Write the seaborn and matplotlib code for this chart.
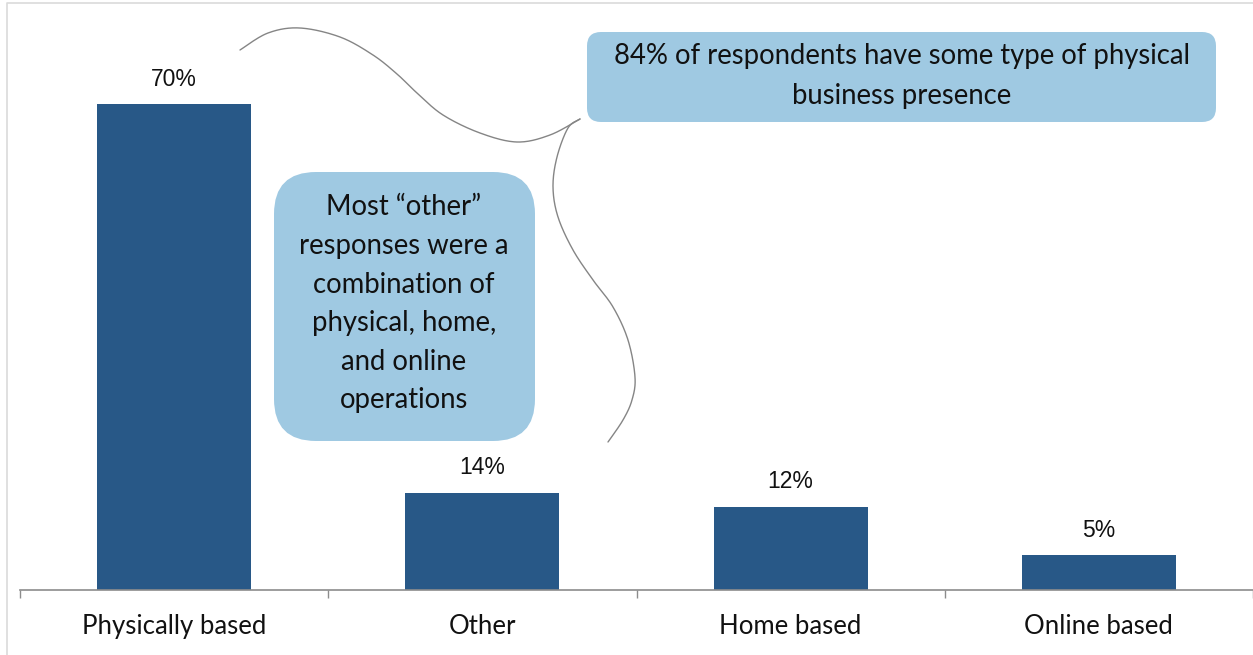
import numpy as np
import pandas as pd
import matplotlib
matplotlib.use("Agg")
import matplotlib.pyplot as plt
import seaborn as sns
from matplotlib.patches import FancyBboxPatch
from matplotlib.lines import Line2D
from matplotlib.transforms import Affine2D

# Business location type shares (%)
categories = ["Physically based", "Other", "Home based", "Online based"]
shares = [70, 14, 12, 5]
value_labels = ["70%", "14%", "12%", "5%"]

note_top = "84% of respondents have some type of physical\nbusiness presence"
note_left = "Most \u201cother\u201d\nresponses were a\ncombination of\nphysical, home,\nand online\noperations"

BAR_COLOR = "#285887"
BOX_COLOR = "#9FC9E2"
W, H = 1253, 655

sns.set_theme(style="white")
plt.rcParams["font.family"] = ["Lato", "DejaVu Sans"]

fig = plt.figure(figsize=(W / 100, H / 100), dpi=100)
# pixel coordinates with the origin at the top-left corner
px = Affine2D().scale(1 / W, -1 / H).translate(0, 1) + fig.transFigure

ax = fig.add_axes([20 / W, 65 / H, 1 - 20 / W, 580 / H])
df = pd.DataFrame({"category": categories, "share": shares})
sns.barplot(data=df, x="category", y="share", color=BAR_COLOR, saturation=1,
            width=0.5, linewidth=0, edgecolor="none", ax=ax)
ax.set_xlim(-0.5, len(categories) - 0.5)
ax.set_ylim(0, 70 * 580 / 486)
ax.set_xlabel("")
ax.set_ylabel("")
ax.set_yticks([])
for s in ["top", "right", "left"]:
    ax.spines[s].set_visible(False)
ax.spines["bottom"].set_color("#8C8C8C")
ax.spines["bottom"].set_linewidth(1.2)
ax.set_facecolor("none")

# category labels centred, tick marks on category boundaries
ax.set_xticks(range(len(categories)))
ax.set_xticklabels(categories, fontsize=18.5, color="#111111")
ax.tick_params(axis="x", which="major", length=0, pad=17)
ax.set_xticks(np.arange(-0.5, len(categories)), minor=True)
ax.tick_params(axis="x", which="minor", length=6, width=1, color="#8C8C8C",
               direction="out", bottom=True)

for bar, lab in zip(ax.patches, value_labels):
    ax.annotate(lab, (bar.get_x() + bar.get_width() / 2, bar.get_height()),
                xytext=(0, 18), textcoords="offset points", ha="center",
                va="center", fontsize=16.5, family="Liberation Sans",
                color="#111111")

# outer frame on the left and top
fig.add_artist(Line2D([7, 7, W], [H, 3, 3], transform=px, color="#DADADA",
                      lw=1.2))

# callout boxes
fig.add_artist(FancyBboxPatch((587, 32), 629, 90,
                              boxstyle="round,pad=0,rounding_size=14",
                              transform=px, facecolor=BOX_COLOR,
                              edgecolor="none"))
fig.text(902 / W, 1 - 76 / H, note_top, ha="center", va="center",
         fontsize=19.8, linespacing=1.68, color="#111111")

fig.add_artist(FancyBboxPatch((274, 172), 261, 269,
                              boxstyle="round,pad=0,rounding_size=42",
                              transform=px, facecolor=BOX_COLOR,
                              edgecolor="none"))
fig.text(404 / W, 1 - 304 / H, note_left, ha="center", va="center",
         fontsize=19.8, linespacing=1.6, color="#111111")


def catmull_rom(pts, n=24):
    pts = np.asarray(pts, float)
    p = np.vstack([pts[0], pts, pts[-1]])
    out = []
    t = np.linspace(0, 1, n, endpoint=False)[:, None]
    for i in range(1, len(p) - 2):
        p0, p1, p2, p3 = p[i - 1], p[i], p[i + 1], p[i + 2]
        seg = 0.5 * ((2 * p1) + (-p0 + p2) * t +
                     (2 * p0 - 5 * p1 + 4 * p2 - p3) * t ** 2 +
                     (-p0 + 3 * p1 - 3 * p2 + p3) * t ** 3)
        out.append(seg)
    out.append(pts[-1][None, :])
    return np.vstack(out)


# curly brace linking the two bars to the summary note
upper = [(240, 50), (268, 33), (300, 28), (340, 37), (373, 55), (397, 74),
         (417, 93), (443, 115), (480, 133), (517, 142), (550, 135), (580, 119)]
lower = [(580, 119), (568, 128), (557, 157), (553, 187), (558, 217),
         (573, 250), (593, 280), (613, 307), (628, 340), (635, 377),
         (632, 400), (623, 420), (608, 442)]
for pts in (upper, lower):
    c = catmull_rom(pts)
    fig.add_artist(Line2D(c[:, 0], c[:, 1], transform=px, color="#858585",
                          lw=1.0))

fig.savefig("out.png", dpi=100, facecolor="white")
